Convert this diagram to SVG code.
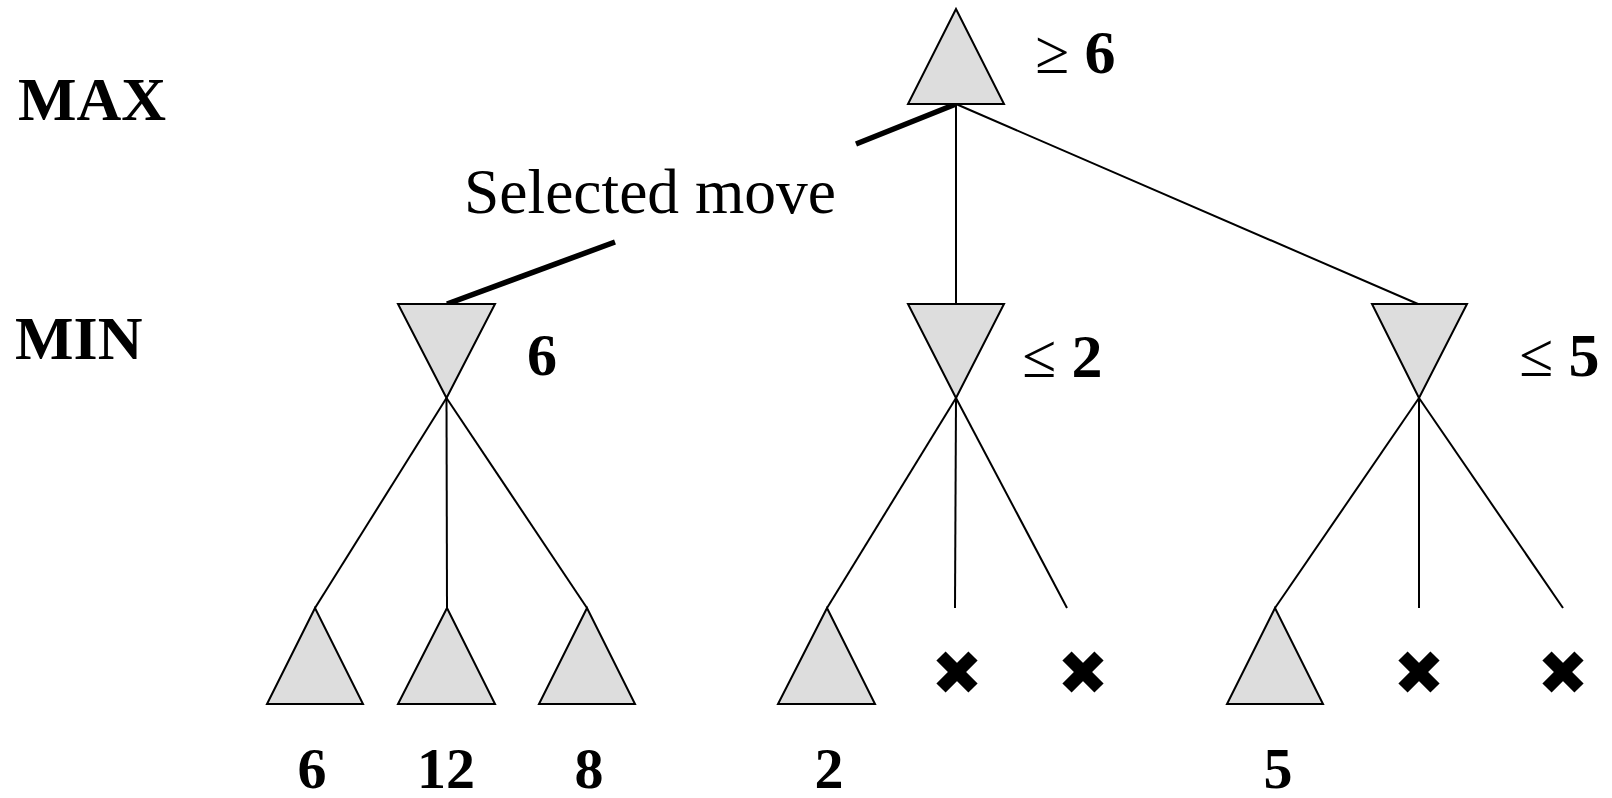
<svg xmlns="http://www.w3.org/2000/svg" width="1612" height="798" viewBox="0 0 1612 798">
<style>
.tri{fill:#dddddd;stroke:#000;stroke-width:2;stroke-linejoin:miter}
.edge{stroke:#000;stroke-width:2;fill:none}
.sel{stroke:#000;stroke-width:5.5;fill:none;stroke-linecap:butt}
.x{stroke:#000;stroke-width:13;stroke-linecap:butt}
.b{font-family:"Liberation Serif","Times New Roman",serif;font-weight:bold;fill:#000}
.r{font-family:"Liberation Serif","Times New Roman",serif;fill:#000}
.op{font-weight:normal}
</style>
<rect width="1612" height="798" fill="#fff"/>
<g id="connectors">
<line class="edge" x1="956" y1="104" x2="956" y2="304"/>
<line class="edge" x1="956" y1="104" x2="1418" y2="304"/>
<line class="edge" x1="446.5" y1="398" x2="315" y2="608"/>
<line class="edge" x1="446.5" y1="398" x2="447" y2="608"/>
<line class="edge" x1="446.5" y1="398" x2="587" y2="608"/>
<line class="edge" x1="956" y1="398" x2="827" y2="608"/>
<line class="edge" x1="956" y1="398" x2="955" y2="608"/>
<line class="edge" x1="956" y1="398" x2="1067" y2="608"/>
<line class="edge" x1="1419" y1="398" x2="1275" y2="608"/>
<line class="edge" x1="1419" y1="398" x2="1419" y2="608"/>
<line class="edge" x1="1419" y1="398" x2="1563" y2="608"/>
<line class="sel" x1="956" y1="104" x2="856" y2="144"/>
<line class="sel" x1="447" y1="304" x2="615" y2="242"/>
</g>
<g id="labels">
<text class="b" x="18" y="120" font-size="62">MAX</text>
<text class="b" x="15" y="359" font-size="62">MIN</text>
<text class="r" x="464" y="213" font-size="63.5">Selected move</text>
</g>
<g id="root">
<polygon class="tri" points="956,9 908,104 1004,104"/>
<text class="b" x="1035" y="73" font-size="62"><tspan class="op">≥</tspan> 6</text>
</g>
<g id="min1">
<polygon class="tri" points="398,304 495,304 446.5,398"/>
<text class="b" x="527" y="375" font-size="60">6</text>
</g>
<g id="min2">
<polygon class="tri" points="908,304 1004,304 956,398"/>
<text class="b" x="1022" y="377" font-size="62"><tspan class="op">≤</tspan> 2</text>
</g>
<g id="min3">
<polygon class="tri" points="1372,304 1467,304 1419,398"/>
<text class="b" x="1519" y="376" font-size="62"><tspan class="op">≤</tspan> 5</text>
</g>
<g id="leaf1">
<polygon class="tri" points="315,608 267,704 363,704"/>
<text class="b" x="312" y="788" font-size="58" text-anchor="middle">6</text>
</g>
<g id="leaf2">
<polygon class="tri" points="447,608 398,704 495,704"/>
<text class="b" x="446" y="788" font-size="58" text-anchor="middle">12</text>
</g>
<g id="leaf3">
<polygon class="tri" points="587,608 539,704 635,704"/>
<text class="b" x="589" y="788" font-size="58" text-anchor="middle">8</text>
</g>
<g id="leaf4">
<polygon class="tri" points="827,608 778,704 875,704"/>
<text class="b" x="829" y="788" font-size="58" text-anchor="middle">2</text>
</g>
<g id="pruned1">
<line class="x" x1="941" y1="656" x2="973" y2="688"/>
<line class="x" x1="973" y1="656" x2="941" y2="688"/>
</g>
<g id="pruned2">
<line class="x" x1="1067" y1="656" x2="1099" y2="688"/>
<line class="x" x1="1099" y1="656" x2="1067" y2="688"/>
</g>
<g id="leaf5">
<polygon class="tri" points="1275,608 1227,704 1323,704"/>
<text class="b" x="1278" y="788" font-size="58" text-anchor="middle">5</text>
</g>
<g id="pruned3">
<line class="x" x1="1403" y1="656" x2="1435" y2="688"/>
<line class="x" x1="1435" y1="656" x2="1403" y2="688"/>
</g>
<g id="pruned4">
<line class="x" x1="1547" y1="656" x2="1579" y2="688"/>
<line class="x" x1="1579" y1="656" x2="1547" y2="688"/>
</g>
</svg>
